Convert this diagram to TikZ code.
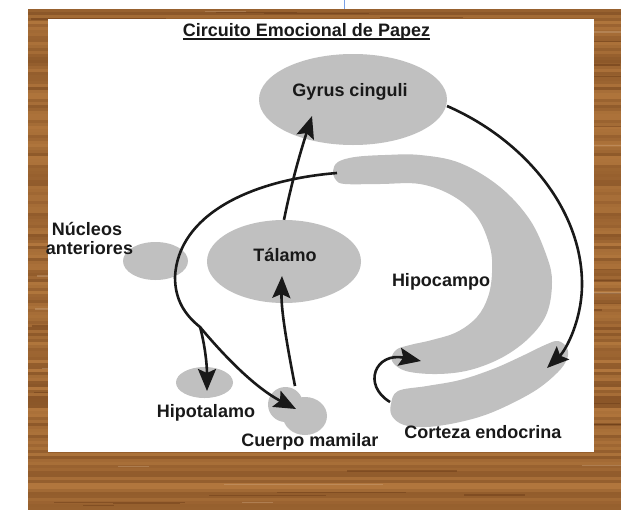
\documentclass[tikz,border=0pt]{standalone}
\usepackage{fontspec}
\setmainfont{Liberation Sans}
\usetikzlibrary{shapes.geometric,arrows.meta}
\definecolor{woodL}{RGB}{185,125,65}
\definecolor{woodD}{RGB}{105,58,22}
\definecolor{blobgray}{RGB}{192,192,192}
\definecolor{tickblue}{RGB}{120,160,230}
\tikzset{
  blob/.style={ellipse, fill=blobgray, draw=none, inner sep=0pt},
  lbl/.style={font=\bfseries\fontsize{18}{20}\selectfont, inner sep=0pt, anchor=base, text=black!90},
  arr/.style={line width=2.6pt, black!90, -{Stealth[length=22pt,width=18pt,inset=4pt]}},
  conn/.style={line width=2.6pt, black!90}
}
\begin{document}
\begin{tikzpicture}[x=1pt,y=-1pt]
\useasboundingbox (0,0) rectangle (621,509);
\fill[white] (0,0) rectangle (621,509);
% wood frame
\pgfmathsetseed{11}
\foreach \i in {0,...,166} {
  \pgfmathsetmacro\p{int(10+50*rnd)}
  \fill[woodD!\p!woodL] (28,{9+3*\i}) rectangle (621,{12.2+3*\i});
}
\foreach \i in {0,...,70} {
  \pgfmathsetmacro\yy{9+498*rnd}
  \pgfmathsetmacro\xx{28+560*rnd}
  \pgfmathsetmacro\ww{30+140*rnd}
  \fill[woodD, opacity=0.45] (\xx,\yy) rectangle (\xx+\ww,\yy+1.5);
}
\foreach \i in {0,...,40} {
  \pgfmathsetmacro\yy{9+498*rnd}
  \pgfmathsetmacro\xx{28+560*rnd}
  \pgfmathsetmacro\ww{30+140*rnd}
  \fill[woodL!60!white, opacity=0.35] (\xx,\yy) rectangle (\xx+\ww,\yy+1.5);
}
\draw[tickblue, line width=1pt] (344,0) -- (344,9);
% white panel
\fill[white] (48,19) rectangle (594,452);
% title
\node[lbl] (title) at (306.5,36.5) {Circuito Emocional de Papez};
\draw[line width=1.4pt, black!90] ([yshift=-2.5pt]title.base west) -- ([yshift=-2.5pt]title.base east);
% blobs
\node[blob, minimum width=188pt, minimum height=91pt] (gyr) at (353,99.5) {};
\node[blob, minimum width=154pt, minimum height=83pt] (tal) at (284,261.5) {};
\node[blob, minimum width=65pt, minimum height=38pt] (nuc) at (155.5,261) {};
\node[blob, minimum width=57pt, minimum height=31pt] (hipt) at (204.5,382.5) {};
\node[blob, minimum width=35pt, minimum height=35pt] (cm1) at (285.5,404.5) {};
\node[blob, minimum width=44pt, minimum height=38pt] (cm2) at (305,416) {};
% hipocampo
\fill[blobgray] plot[smooth cycle, tension=0.6] coordinates {
 (333,171) (338,162) (355,157) (385,155) (420,155) (460,163) (500,187) (530,220)
 (547,257) (552,282) (547,313) (530,337) (503,357) (470,370) (437,374) (406,371)
 (392,361) (396,350) (410,345) (432,340) (457,332) (477,317) (488,297) (492,273)
 (490,247) (477,217) (453,196) (420,184) (380,184) (345,184) (336,180)};
% corteza
\fill[blobgray] plot[smooth cycle, tension=0.6] coordinates {
 (391,404) (398,391) (427,386) (460,380) (493,369) (520,357) (545,345) (558,341)
 (567,348) (567,359) (557,373) (533,392) (493,412) (460,422) (427,427) (404,425) (392,416)};
\coordinate (hipA) at (337,173);
\coordinate (hipB) at (421,361);
\coordinate (corA) at (390,402);
\coordinate (corB) at (547,368);
\coordinate (gyrOut) at (447,106);
\coordinate (gyrIn) at (312,116);
\coordinate (talIn) at (282,276);
\coordinate (cmTop) at (295,386);
\coordinate (cmIn) at (296,409);
\coordinate (hiptIn) at (207,391);
\coordinate (branch) at (200,327);
% labels
\node[lbl] (lgyr) at (350,96) {Gyrus cinguli};
\node[lbl] (ltal) at (285,261.7) {Tálamo};
\node[lbl] (lnuc1) at (87,235.7) {Núcleos};
\node[lbl] (lnuc2) at (89.5,254.3) {anteriores};
\node[lbl] (lhipt) at (206,417.3) {Hipotalamo};
\node[lbl] (lcm) at (310,446.5) {Cuerpo mamilar};
\node[lbl] (lcor) at (483,438.3) {Corteza endocrina};
\node[lbl] (lhip) at (441,286.7) {Hipocampo};
% connectors
\draw[arr] (tal.north) .. controls (292,180) and (302,147) .. (gyrIn);
\draw[arr] (cmTop) .. controls (287,345) and (281,310) .. (talIn);
\draw[arr] (gyrOut) .. controls (525,140) and (582,210) .. (582,284) .. controls (582,320) and (566,350) .. (corB);
\draw[arr] (hipA) .. controls (250,180) and (178,215) .. (175,277) .. controls (175,300) and (185,315) .. (branch) .. controls (215,345) and (250,385) .. (cmIn);
\draw[arr] (branch) .. controls (205,345) and (207,365) .. (hiptIn);
\draw[arr] (corA) .. controls (362,385) and (375,352) .. (hipB);
\end{tikzpicture}
\end{document}
